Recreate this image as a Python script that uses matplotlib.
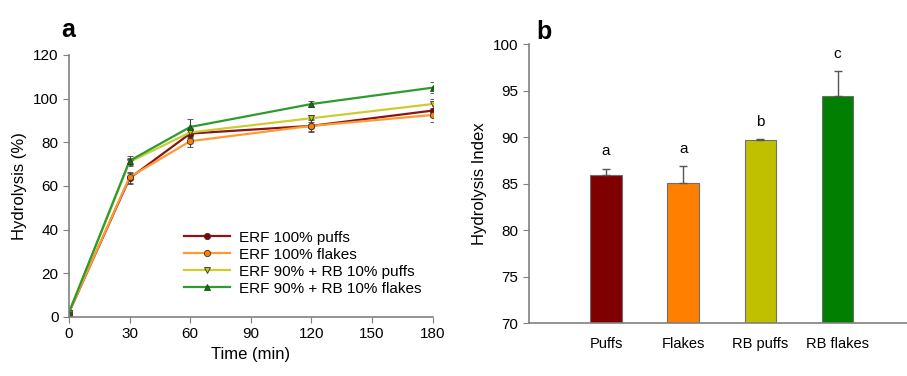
import matplotlib.pyplot as plt
from matplotlib.lines import Line2D

plt.rcParams['font.family'] = ['Liberation Sans', 'DejaVu Sans']

# panel a: hydrolysis over time
times = [0, 30, 60, 120, 180]
erf_puffs = [2.0, 63.5, 84.0, 87.5, 94.5]
erf_flakes = [2.0, 64.0, 80.5, 87.5, 92.5]
rb_puffs = [2.0, 71.0, 84.5, 91.0, 97.5]
rb_flakes = [2.0, 71.5, 87.0, 97.5, 105.0]
err_puffs = [1.0, 2.5, 2.0, 2.5, 3.0]
err_flakes = [1.0, 2.5, 2.5, 3.0, 3.0]
err_rb_puffs = [1.0, 2.0, 2.0, 1.5, 2.5]
err_rb_flakes = [1.0, 2.0, 3.5, 1.5, 2.5]
series_labels = ["ERF 100% puffs", "ERF 100% flakes",
                 "ERF 90% + RB 10% puffs", "ERF 90% + RB 10% flakes"]

# panel b: hydrolysis index
categories = ["Puffs", "Flakes", "RB puffs", "RB flakes"]
hi_values = [85.9, 85.05, 89.7, 94.45]
hi_errors = [0.75, 1.85, 0.15, 2.65]
letters = ["a", "a", "b", "c"]

gray = '#808080'
fig = plt.figure(figsize=(9.07, 3.76), dpi=100)

# ---- panel a
ax1 = fig.add_axes([0.076, 0.157, 0.401, 0.697])
styles = [
    (erf_puffs, err_puffs, '#8B1414', '#8B0000', 'o'),
    (erf_flakes, err_flakes, '#FF9933', '#FF8000', 'o'),
    (rb_puffs, err_rb_puffs, '#CCCC33', '#C8C800', 'v'),
    (rb_flakes, err_rb_flakes, '#2E9B2E', '#008000', '^'),
]
handles = []
for (vals, errs, lc, mc, mk), lab in zip(styles, series_labels):
    mstyle = dict(marker=mk, markersize=4.5, markerfacecolor=mc,
                  markeredgecolor='#333333', markeredgewidth=0.6)
    ax1.errorbar(times, vals, yerr=errs, color=lc, lw=1.6,
                 ecolor='#444444', elinewidth=0.8, capsize=2, **mstyle)
    handles.append(Line2D([], [], color=lc, lw=1.6, label=lab, **mstyle))

ax1.set_xlim(0, 180)
ax1.set_ylim(0, 120)
ax1.set_xticks([0, 30, 60, 90, 120, 150, 180])
ax1.set_yticks(range(0, 121, 20))
ax1.set_xlabel("Time (min)", fontsize=12)
ax1.set_ylabel("Hydrolysis (%)", fontsize=12)
ax1.legend(handles=handles, loc='lower right', bbox_to_anchor=(1.0, 0.04),
           frameon=False, fontsize=11, handlelength=3.0, labelspacing=0.2,
           borderpad=0.2, handletextpad=0.6)
ax1.text(-0.02, 1.05, "a", transform=ax1.transAxes, fontsize=18,
         fontweight='bold', ha='left', va='bottom')

# ---- panel b
ax2 = fig.add_axes([0.583, 0.140, 0.417, 0.742])
bar_colors = ['#7F0000', '#FF8000', '#C0C000', '#007F00']
xpos = [1, 2, 3, 4]
ax2.bar(xpos, [v - 70 for v in hi_values], bottom=70, width=0.41,
        color=bar_colors, edgecolor='#6E6E6E', linewidth=0.8)
ax2.errorbar(xpos, hi_values, yerr=[[0] * 4, hi_errors], fmt='none',
             ecolor='#555555', elinewidth=1.0, capsize=3)
for x, v, e, l in zip(xpos, hi_values, hi_errors, letters):
    ax2.text(x, v + e + 1.1, l, ha='center', va='bottom', fontsize=11)
ax2.set_xlim(0, 4.9)
ax2.set_ylim(70, 100)
ax2.set_yticks(range(70, 101, 5))
ax2.set_xticks(xpos)
ax2.set_xticklabels(categories)
ax2.set_ylabel("Hydrolysis Index", fontsize=12)
ax2.text(0.02, 1.0, "b", transform=ax2.transAxes, fontsize=18,
         fontweight='bold', ha='left', va='bottom')

for ax in (ax1, ax2):
    for s in ('top', 'right'):
        ax.spines[s].set_visible(False)
    for s in ('left', 'bottom'):
        ax.spines[s].set_color(gray)
        ax.spines[s].set_linewidth(1.2)
    ax.tick_params(direction='out', color=gray, labelsize=11, length=4)

ax2.tick_params(axis='x', length=0, pad=10, labelsize=10.5)

fig.savefig("out.png", dpi=100)
